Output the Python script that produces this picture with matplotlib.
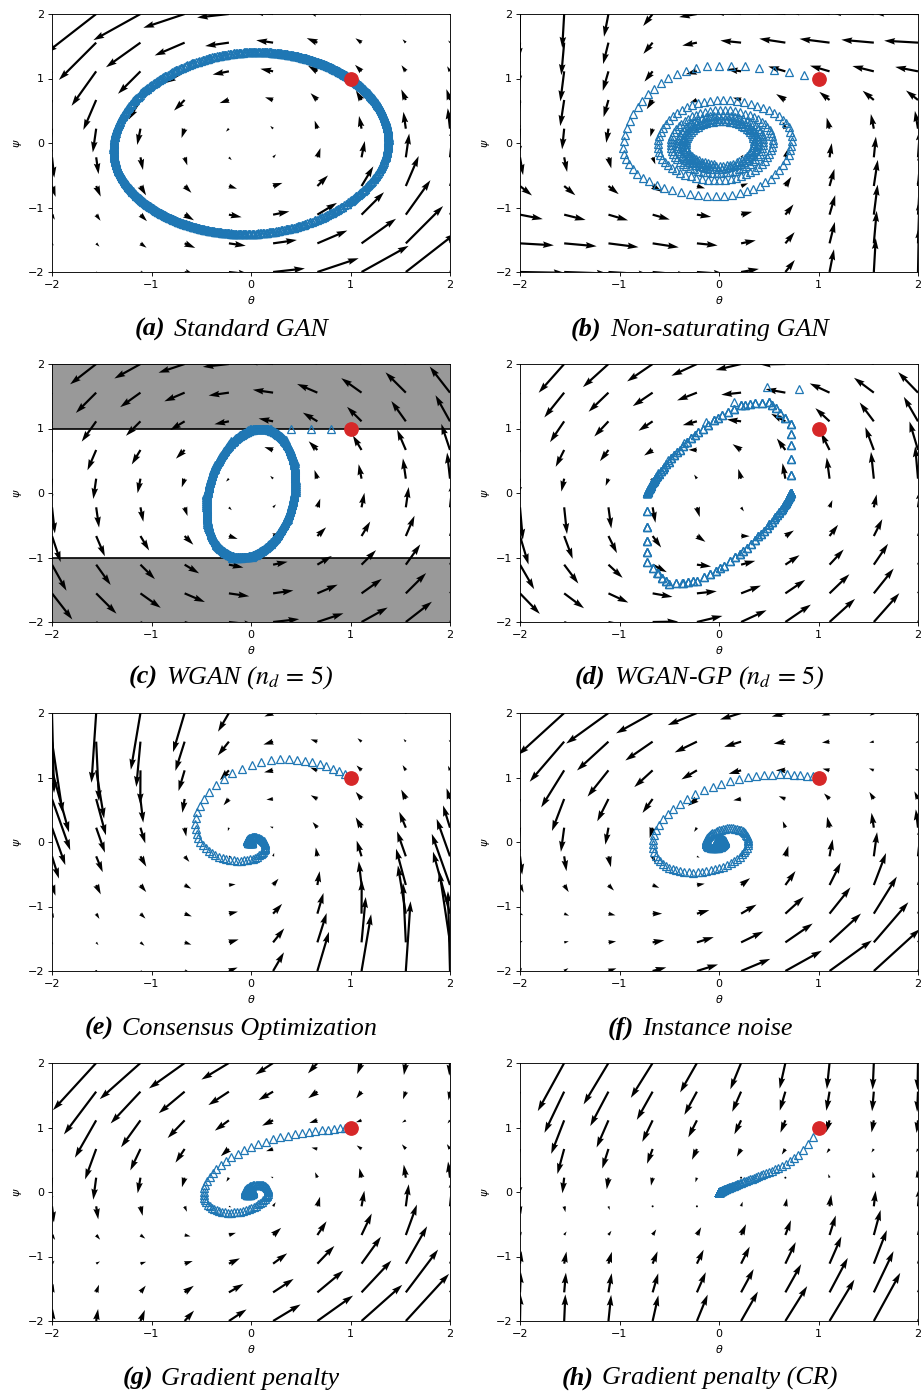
import numpy as np
import matplotlib
matplotlib.use("Agg")
import matplotlib.pyplot as plt
from matplotlib.offsetbox import TextArea, HPacker, AnnotationBbox

# ---------------- data / settings ----------------
panel_tags = ["(a)", "(b)", "(c)", "(d)", "(e)", "(f)", "(g)", "(h)"]
panel_titles = ["Standard GAN", "Non-saturating GAN", r"WGAN ($n_d\,=\,5$)",
                r"WGAN-GP ($n_d\,=\,5$)", "Consensus Optimization", "Instance noise",
                "Gradient penalty", "Gradient penalty (CR)"]
methods = ["standard", "nonsat", "wgan", "wgangp", "consensus", "instnoise", "gp", "gp"]
reg_strength = [0.0, 0.0, 0.0, 0.7, 1.0, 0.7, 0.3, 1.0]
consensus_curvature_weight = 0.5
update_modes = ["alt", "alt", "alt", "alt", "sim", "alt", "alt", "alt"]
disc_steps = [1, 1, 5, 5, 1, 1, 1, 1]
n_iterations = [1000, 350, 600, 400, 400, 400, 400, 400]
step_size = 0.2
start_theta = 1.0
start_psi = 1.0
wgan_clip = 1.0
quiver_grid = [-2.0, -1.556, -1.111, -0.667, -0.222, 0.222, 0.667, 1.111, 1.556, 2.0]
axis_ticks = [-2, -1, 0, 1, 2]
axis_limits = [-2, 2]

# ---------------- Dirac-GAN dynamics ----------------
gh_nodes, gh_weights = np.polynomial.hermite.hermgauss(40)
gh_weights = gh_weights / np.sqrt(np.pi)


def fprime(t):
    return 1.0 / (1.0 + np.exp(t))


def fsecond(t):
    s = 1.0 / (1.0 + np.exp(-t))
    return -s * (1.0 - s)


def field(method, th, ps, gamma):
    th = np.asarray(th, dtype=float)
    ps = np.asarray(ps, dtype=float)
    if method == "standard":
        g = fprime(th * ps)
        return -ps * g, th * g
    if method == "nonsat":
        return -ps * fprime(-th * ps), th * fprime(th * ps)
    if method == "wgan":
        return -ps, th
    if method == "wgangp":
        return -ps, th - gamma * (np.abs(ps) - 1.0) * np.sign(ps)
    if method == "consensus":
        t = th * ps
        g = fprime(t)
        gg = fsecond(t)
        r2 = th ** 2 + ps ** 2
        v1, v2 = -ps * g, th * g
        cw = consensus_curvature_weight
        d1 = th * g * g + cw * r2 * g * gg * ps
        d2 = ps * g * g + cw * r2 * g * gg * th
        return v1 - gamma * d1, v2 - gamma * d2
    if method == "instnoise":
        thb = th[..., None]
        psb = ps[..., None]
        xg = thb + np.sqrt(2.0) * gamma * gh_nodes
        xd = np.sqrt(2.0) * gamma * gh_nodes + 0.0 * thb
        v1 = -ps * np.sum(gh_weights * fprime(psb * xg), axis=-1)
        v2 = (np.sum(gh_weights * xg * fprime(psb * xg), axis=-1)
              - np.sum(gh_weights * xd * fprime(-psb * xd), axis=-1))
        return v1, v2
    if method == "gp":
        g = fprime(th * ps)
        return -ps * g, th * g - gamma * ps
    raise ValueError(method)


def trajectory(method, gamma, nd, n, h, mode):
    th, ps = start_theta, start_psi
    ths, pss = [th], [ps]
    for _ in range(n):
        if mode == "sim":
            v1, v2 = field(method, th, ps, gamma)
            th, ps = float(th + h * v1), float(ps + h * v2)
        else:
            v1, _ = field(method, th, ps, gamma)
            th = float(th + h * v1)
            for _ in range(nd):
                _, v2 = field(method, th, ps, gamma)
                ps = float(ps + h * v2)
                if method == "wgan":
                    ps = float(np.clip(ps, -wgan_clip, wgan_clip))
        ths.append(th)
        pss.append(ps)
    return np.array(ths), np.array(pss)


# ---------------- figure ----------------
W, H = 921, 1397
fig = plt.figure(figsize=(W / 100, H / 100), dpi=100)

col_left = [52, 520]
row_top = [14, 364, 713, 1063]
ax_w, ax_h = 398, 258
cap_x = [231, 700]
cap_base = [336, 686, 1035, 1385]

GX, GY = np.meshgrid(quiver_grid, quiver_grid)

for i in range(8):
    r, c = divmod(i, 2)
    left = col_left[c] / W
    bottom = 1 - (row_top[r] + ax_h) / H
    ax = fig.add_axes([left, bottom, ax_w / W, ax_h / H])

    m = methods[i]
    gam = reg_strength[i]
    U, V = field(m, GX, GY, gam)

    if m == "wgan":
        ax.axhspan(wgan_clip, 2, color="#999999", zorder=0, lw=0)
        ax.axhspan(-2, -wgan_clip, color="#999999", zorder=0, lw=0)
        ax.axhline(wgan_clip, color="black", lw=1.2, zorder=0.5)
        ax.axhline(-wgan_clip, color="black", lw=1.2, zorder=0.5)

    ax.quiver(GX, GY, U, V, color="black", width=0.0055)

    tx, ty = trajectory(m, gam, disc_steps[i], n_iterations[i], step_size, update_modes[i])
    ax.plot(tx[1:], ty[1:], linestyle="none", marker="^", markersize=6.2,
            markerfacecolor="none", markeredgecolor="C0", markeredgewidth=0.9)
    ax.plot([start_theta], [start_psi], "o", color="C3", markersize=9.6, zorder=5)

    ax.set_xlim(axis_limits)
    ax.set_ylim(axis_limits)
    ax.set_xticks(axis_ticks)
    ax.set_yticks(axis_ticks)
    ax.tick_params(labelsize=8, length=2.8, width=0.64, pad=2.8)
    for s in ax.spines.values():
        s.set_linewidth(0.64)
    ax.set_xlabel(r"$\theta$", fontsize=8, labelpad=3)
    ax.set_ylabel(r"$\psi$", fontsize=8, labelpad=3)

    # caption
    fs = 18.8
    t1 = TextArea(panel_tags[i], textprops=dict(fontfamily="Liberation Serif", style="italic",
                                                 weight="bold", fontsize=fs))
    t2 = TextArea(panel_titles[i], textprops=dict(fontfamily="Liberation Serif", style="italic",
                                                   fontsize=fs, math_fontfamily="stix"))
    pack = HPacker(children=[t1, t2], align="baseline", pad=0, sep=6)
    ab = AnnotationBbox(pack, (cap_x[c], H - cap_base[r] - 5), xycoords="figure pixels",
                        box_alignment=(0.5, 0.0), frameon=False, pad=0)
    fig.add_artist(ab)

fig.savefig("out.png", dpi=100)
